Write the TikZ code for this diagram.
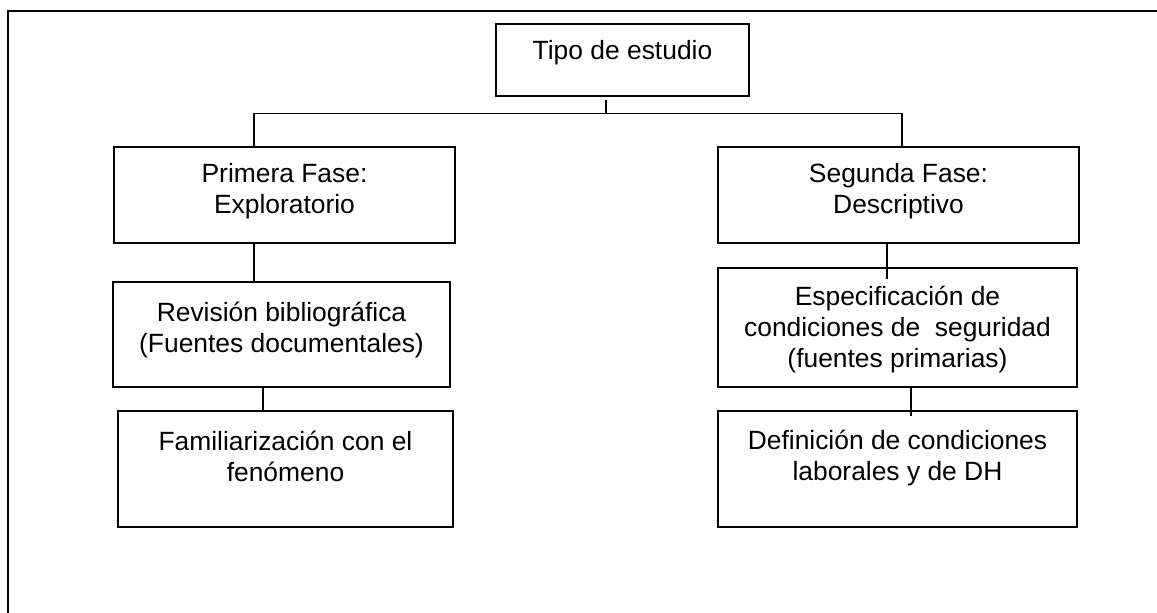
\documentclass[tikz,border=0pt]{standalone}
\usepackage{fontspec}
\setmainfont{Liberation Sans}
\usepackage{tikz}

\begin{document}
\begin{tikzpicture}[
    x=0.5pt, y=-0.5pt,
    box/.style={draw, rectangle, line width=0.8pt, inner sep=0pt},
    txt/.style={anchor=north, align=center, inner sep=0pt, font=\fontsize{13.2}{15.6}\selectfont},
    link/.style={line width=0.8pt},
    frame/.style={line width=1.3pt}
]
\useasboundingbox (0,0) rectangle (1157,612);
\draw[frame] (8,620) -- (8,11) -- (1165,11);

\node[box, minimum width=126.5pt, minimum height=36pt] (tipo) at (622.5,60) {};
\node[box, minimum width=170.5pt, minimum height=48pt] (fase1) at (284.5,195) {};
\node[box, minimum width=180.5pt, minimum height=48pt] (fase2) at (898.5,195) {};
\node[box, minimum width=168.5pt, minimum height=52.5pt] (rev) at (281.5,334.5) {};
\node[box, minimum width=179.5pt, minimum height=59.5pt] (esp) at (897.5,327.5) {};
\node[box, minimum width=167.5pt, minimum height=58pt] (fam) at (285.5,469) {};
\node[box, minimum width=179.5pt, minimum height=58pt] (def) at (897.5,469) {};

\node[txt] (tipo-t) at ([yshift=-8.5pt]tipo.north) {Tipo de estudio};
\node[txt] (fase1-t) at ([yshift=-8.5pt]fase1.north) {Primera Fase:\\Exploratorio};
\node[txt] (fase2-t) at ([yshift=-8.5pt]fase2.north) {Segunda Fase:\\Descriptivo};
\node[txt] (rev-t) at ([yshift=-10pt]rev.north) {Revisión bibliográfica\\(Fuentes documentales)};
\node[txt] (esp-t) at ([yshift=-9pt]esp.north) {Especificación de\\condiciones de\ \ seguridad\\(fuentes primarias)};
\node[txt] (fam-t) at ([yshift=-10pt]fam.north) {Familiarización con el\\fenómeno};
\node[txt] (def-t) at ([yshift=-9.5pt]def.north) {Definición de condiciones\\laborales y de DH};

% connector points
\coordinate (hub) at (606,113.5);
\coordinate (f1) at ([xshift=-15.25pt]fase1.south);
\coordinate (r1) at ([xshift=-9.25pt]rev.south);
\coordinate (f2) at ([xshift=-5.75pt]fase2.south);
\coordinate (e1) at ([xshift=6.75pt]esp.south);

\draw[link] ([shift={(-8.25pt,-1.5pt)}]tipo.south) -- (hub);
\draw[link] ([xshift=-15.25pt]fase1.north) |- (hub) -| ([xshift=1.75pt]fase2.north);

\draw[link] (f1) -- (f1 |- rev.north);
\draw[link] (r1) -- (r1 |- fam.north);
\draw[link] (f2) -- (f2 |- esp.north) -- ++(0,12);
\draw[link] (e1) -- (e1 |- def.north) -- ++(0,6);
\end{tikzpicture}
\end{document}
